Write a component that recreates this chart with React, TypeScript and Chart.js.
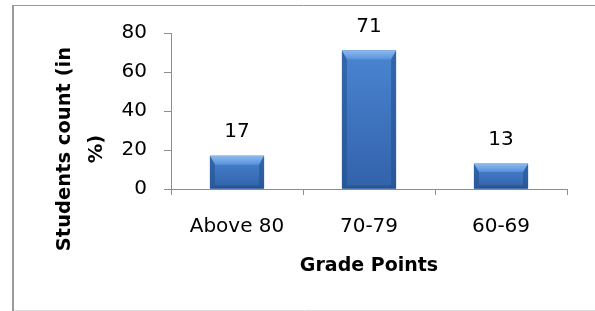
import React, { useEffect, useRef } from "react";
import { Chart, registerables } from "chart.js";

Chart.register(...registerables);

const categories = ["Above 80", "70-79", "60-69"];
const studentPercents = [17, 71, 13];
const yTicks = [0, 20, 40, 60, 80];
const yTitleLines = ["Students count (in", "%)"];
const xTitle = "Grade Points";

const FONT = "'DejaVu Sans', sans-serif";

const framePlugin = {
  id: "frame",
  beforeDraw(chart: any) {
    const ctx = chart.ctx;
    ctx.save();
    ctx.fillStyle = "#ffffff";
    ctx.fillRect(0, 0, chart.width, chart.height);
    ctx.strokeStyle = "#9a9a9a";
    ctx.lineWidth = 1;
    ctx.beginPath();
    ctx.moveTo(12, 5.5);
    ctx.lineTo(chart.width, 5.5);
    ctx.stroke();
    ctx.lineWidth = 2;
    ctx.beginPath();
    ctx.moveTo(13, 5);
    ctx.lineTo(13, chart.height);
    ctx.stroke();
    ctx.strokeStyle = "#dcdcdc";
    ctx.lineWidth = 1;
    ctx.beginPath();
    ctx.moveTo(14, chart.height - 0.5);
    ctx.lineTo(chart.width, chart.height - 0.5);
    ctx.stroke();
    ctx.restore();
  },
  afterDraw(chart: any) {
    // y-axis title, two lines, rotated
    const ctx = chart.ctx;
    ctx.save();
    ctx.translate(0, 149);
    ctx.rotate(-Math.PI / 2);
    ctx.fillStyle = "#000000";
    ctx.font = `bold 19.5px ${FONT}`;
    ctx.textAlign = "center";
    ctx.textBaseline = "middle";
    ctx.fillText(yTitleLines[0], 0, 65);
    ctx.fillText(yTitleLines[1], 0, 97);
    ctx.restore();
  },
};

const bevelPlugin = {
  id: "bevelBars",
  afterDatasetsDraw(chart: any) {
    const ctx = chart.ctx;
    const meta = chart.getDatasetMeta(0);
    ctx.save();
    meta.data.forEach((bar: any, i: number) => {
      const { x, y, base, width } = bar.getProps(["x", "y", "base", "width"], true);
      const l = x - width / 2;
      const r = x + width / 2;
      const t = y;
      const b = base;
      const bt = Math.min(9, (b - t) / 3);
      const bs = 5;
      const bb = Math.min(3, (b - t) / 6);
      const g = ctx.createLinearGradient(0, t, 0, b);
      g.addColorStop(0, "#4a85d2");
      g.addColorStop(1, "#3262aa");
      ctx.fillStyle = g;
      ctx.fillRect(l, t, width, b - t);
      const gt = ctx.createLinearGradient(0, t, 0, t + bt);
      gt.addColorStop(0, "#8cbaee");
      gt.addColorStop(1, "#5791dc");
      ctx.fillStyle = gt;
      ctx.beginPath();
      ctx.moveTo(l, t);
      ctx.lineTo(r, t);
      ctx.lineTo(r - bs, t + bt);
      ctx.lineTo(l + bs, t + bt);
      ctx.closePath();
      ctx.fill();
      ctx.fillStyle = "rgba(35,78,140,0.55)";
      ctx.beginPath();
      ctx.moveTo(l, t);
      ctx.lineTo(l + bs, t + bt);
      ctx.lineTo(l + bs, b - bb);
      ctx.lineTo(l, b);
      ctx.closePath();
      ctx.fill();
      ctx.beginPath();
      ctx.moveTo(r, t);
      ctx.lineTo(r - bs, t + bt);
      ctx.lineTo(r - bs, b - bb);
      ctx.lineTo(r, b);
      ctx.closePath();
      ctx.fill();
      ctx.fillStyle = "#28548f";
      ctx.beginPath();
      ctx.moveTo(l, b);
      ctx.lineTo(l + bs, b - bb);
      ctx.lineTo(r - bs, b - bb);
      ctx.lineTo(r, b);
      ctx.closePath();
      ctx.fill();
      ctx.fillStyle = "#000000";
      ctx.font = `20px ${FONT}`;
      ctx.textAlign = "center";
      ctx.textBaseline = "middle";
      ctx.fillText(String(studentPercents[i]), x, t - 24);
    });
    ctx.restore();
  },
};

export default function App() {
  const canvasRef = useRef<HTMLCanvasElement | null>(null);

  useEffect(() => {
    document.body.style.margin = "0";
    const canvas = canvasRef.current;
    if (!canvas) return;
    const chart = new Chart(canvas, {
      type: "bar",
      data: {
        labels: categories,
        datasets: [
          {
            data: studentPercents,
            backgroundColor: "#3f76c0",
            borderWidth: 0,
            barPercentage: 0.41,
            categoryPercentage: 1,
          },
        ],
      },
      options: {
        animation: false,
        responsive: false,
        maintainAspectRatio: false,
        devicePixelRatio: 1,
        layout: { padding: { top: 33, right: 28, left: 0, bottom: 0 } },
        plugins: {
          legend: { display: false },
          tooltip: { enabled: false },
        },
        scales: {
          x: {
            grid: {
              display: true,
              drawOnChartArea: false,
              drawTicks: true,
              tickLength: 6,
              color: "#8c8c8c",
              offset: true,
            },
            border: { display: true, color: "#8c8c8c", width: 1 },
            ticks: {
              color: "#000000",
              font: { family: FONT, size: 20 },
              padding: 20,
              maxRotation: 0,
            },
            title: {
              display: true,
              text: xTitle,
              color: "#000000",
              font: { family: FONT, size: 19, weight: "bold" },
              padding: { top: 0, bottom: 34 },
            },
            afterFit(scale: any) {
              scale.height = 122;
            },
          },
          y: {
            min: 0,
            max: 80,
            afterBuildTicks(scale: any) {
              scale.ticks = yTicks.map((v) => ({ value: v }));
            },
            grid: {
              display: true,
              drawOnChartArea: false,
              drawTicks: true,
              tickLength: 7,
              color: "#8c8c8c",
            },
            border: { display: true, color: "#8c8c8c", width: 1 },
            ticks: {
              color: "#000000",
              font: { family: FONT, size: 20 },
              padding: 17,
            },
            title: { display: false },
            afterFit(scale: any) {
              scale.width = 171;
            },
          },
        },
      },
      plugins: [framePlugin, bevelPlugin],
    });
    return () => chart.destroy();
  }, []);

  return (
    <div style={{ position: "absolute", left: 0, top: 0, width: 595, height: 311 }}>
      <canvas ref={canvasRef} width={595} height={311} style={{ display: "block" }} />
    </div>
  );
}
